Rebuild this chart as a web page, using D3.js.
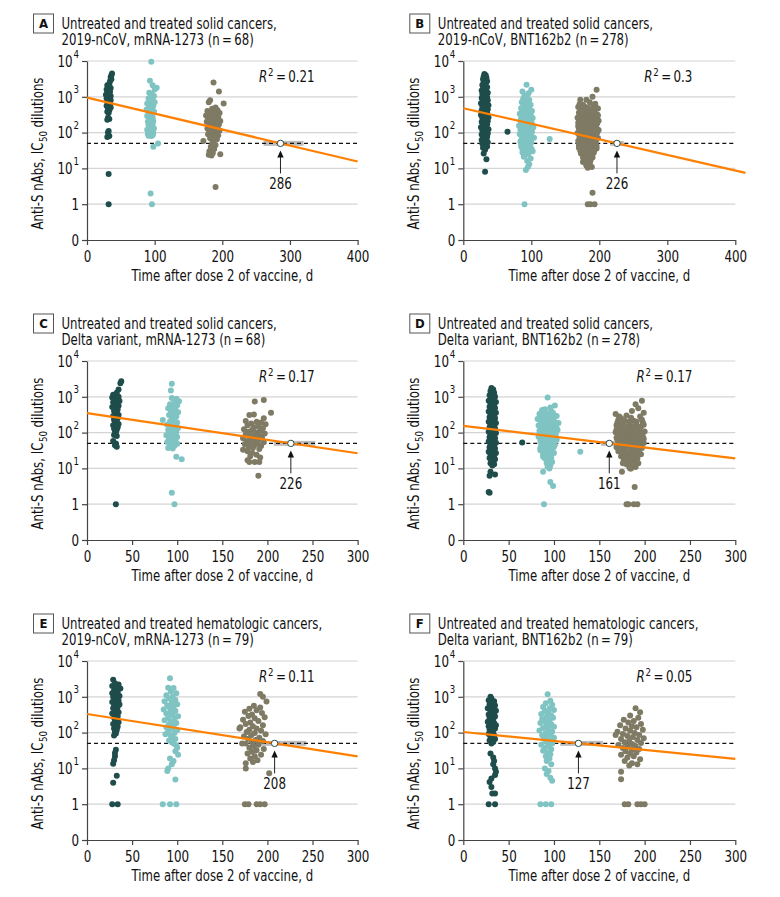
<!DOCTYPE html>
<html><head><meta charset="utf-8">
<script src="https://cdn.jsdelivr.net/npm/d3@7"></script>
<style>
body{margin:0;background:#fff}
text{font-family:"Liberation Sans Narrow","DejaVu Sans Condensed","Liberation Sans",Arial,sans-serif;fill:#111}
</style></head>
<body><svg id="chart" width="780" height="897"></svg>
<script>
// ---------------- DATA ----------------
const letters = ["A","B","C","D","E","F"];
const titles = [
  ["Untreated and treated solid cancers,","2019-nCoV, mRNA-1273 (n\u2009=\u200968)"],
  ["Untreated and treated solid cancers,","2019-nCoV, BNT162b2 (n\u2009=\u2009278)"],
  ["Untreated and treated solid cancers,","Delta variant, mRNA-1273 (n\u2009=\u200968)"],
  ["Untreated and treated solid cancers,","Delta variant, BNT162b2 (n\u2009=\u2009278)"],
  ["Untreated and treated hematologic cancers,","2019-nCoV, mRNA-1273 (n\u2009=\u200979)"],
  ["Untreated and treated hematologic cancers,","Delta variant, BNT162b2 (n\u2009=\u200979)"]
];
const r2Labels = ["0.21","0.3","0.17","0.17","0.11","0.05"];
const xMaxes = [400,400,300,300,300,300];
const xTicksLong = [0,100,200,300,400];
const xTicksShort = [0,50,100,150,200,250,300];
const yTickValues = [0.1,1,10,100,1000,10000];
const yTickLabels = [["0",""],["1",""],["10","1"],["10","2"],["10","3"],["10","4"]];
const gridValues = [1,10,100,1000,10000];
const threshold = 50;
const fitLines = [
  [[0,950],[400,15.6]],
  [[0,480],[415,7.5]],
  [[0,350],[300,26.5]],
  [[0,155],[300,19]],
  [[0,330],[300,21.7]],
  [[0,104],[300,18.4]]
];
const crossDays = [286,226,226,161,208,127];
const crossBands = [[261,320],[216,236],[207,253],[152,168],[188,243],[107,154]];
const xAxisTitle = "Time after dose 2 of vaccine, d";
const yAxisTitleParts = ["Anti-S nAbs, IC", "50", "dilutions"];

// Panel A
const aDark = [[37,4500],[36,4000],[35,3500],[36,3100],[34,2700],[33,2300],[30,2100],[32,1900],[35,1750],[29,1600],[31,1500],[34,1400],[30,1300],[33,1200],[28,1150],[31,1100],[35,1050],[30,1000],[33,950],[29,900],[32,850],[35,800],[30,750],[33,700],[31,650],[34,600],[29,560],[32,520],[35,500],[31,470],[33,420],[30,380],[32,350],[31,260],[33,240],[30,230],[32,110],[31,100],[33,80],[30,75],[32,7],[32,1]];
const aLight = [[95,9500],[93,2800],[97,2100],[103,1800],[100,1600],[92,1300],[96,1200],[99,1050],[94,1000],[91,900],[97,850],[93,780],[100,700],[89,650],[95,620],[98,560],[92,520],[96,480],[88,440],[94,420],[99,390],[91,360],[96,330],[93,310],[89,290],[97,270],[92,250],[95,230],[98,210],[90,200],[94,185],[97,170],[91,160],[95,150],[93,140],[99,130],[89,120],[96,112],[92,105],[98,98],[90,92],[94,88],[97,84],[91,82],[95,80],[105,50],[98,40],[94,2],[96,1]];
const aGray = [[187,2500],[195,1400],[182,800],[180,700],[202,650],[190,500],[185,460],[193,420],[178,400],[188,380],[196,350],[183,330],[191,310],[176,300],[186,290],[194,270],[181,260],[189,250],[179,240],[192,230],[184,220],[197,210],[177,200],[187,190],[182,180],[195,170],[180,160],[190,155],[185,150],[193,140],[178,130],[188,125],[183,120],[196,115],[181,110],[191,100],[186,95],[179,90],[194,85],[184,80],[189,75],[182,70],[192,65],[187,60],[172,58],[185,50],[190,45],[183,40],[188,35],[181,30],[186,27],[180,24],[197,25],[184,23],[190,3]];

// Panel B
const bDark = [[31,4300],[33,4000],[30,3700],[34,3400],[29,3100],[32,2900],[35,2700],[30,2500],[33,2300],[28,2150],[31,2000],[35,1850],[29,1700],[33,1600],[27,1500],[31,1400],[36,1300],[28,1200],[33,1120],[30,1050],[35,980],[27,920],[32,860],[36,800],[29,750],[34,700],[26,660],[31,620],[37,580],[28,540],[33,510],[30,480],[36,450],[27,420],[32,395],[35,370],[29,350],[34,330],[26,310],[31,290],[37,270],[28,255],[33,240],[30,225],[36,210],[27,198],[32,185],[35,172],[29,160],[34,150],[26,140],[31,132],[37,124],[28,116],[33,108],[30,100],[36,94],[27,88],[32,82],[35,77],[29,72],[34,67],[27,62],[31,58],[36,54],[28,50],[33,47],[30,44],[35,41],[29,38],[32,33],[30,26],[34,18],[32,8],[65,105]];
const bLight = [[93,2170],[100,1580],[87,1400],[96,1250],[90,1100],[94,950],[88,880],[97,820],[91,760],[86,700],[95,650],[99,600],[89,560],[93,520],[85,480],[97,450],[91,420],[101,400],[87,380],[95,355],[83,335],[99,315],[90,300],[94,285],[86,270],[102,255],[92,240],[97,228],[84,215],[89,205],[100,195],[94,185],[87,175],[96,165],[82,155],[91,148],[103,140],[88,132],[98,125],[93,118],[85,112],[101,106],[90,100],[95,95],[83,90],[99,85],[88,80],[93,76],[104,72],[86,68],[97,64],[91,60],[84,56],[100,53],[95,50],[88,47],[92,44],[98,41],[86,38],[94,35],[90,32],[102,30],[87,28],[96,26],[92,24],[89,21],[99,19],[94,16],[97,13],[95,11],[92,9],[90,1],[127,66],
  [92,620],[88,500],[96,470],[90,440],[94,400],[86,360],[98,340],[92,320],[88,290],[96,275],[100,262],[85,250],[93,230],[90,218],[97,206],[87,190],[94,178],[101,170],[89,160],[95,150],[86,140],[92,130],[99,120],[84,118],[90,110],[96,102],[88,96],[93,90],[100,80],[87,73],[95,70],[90,65],[98,58],[85,50],[93,55],[96,46],[89,43],[100,36],[91,38],[85,42],[95,30],[88,33],[93,28],[90,26]];
const bGray = [[196,1580],[190,1000],[172,830],[181,830],[186,700],[194,640],[176,600],[191,560],[169,520],[183,500],[198,470],[174,440],[188,420],[179,400],[193,380],[170,360],[185,340],[197,320],[176,305],[190,290],[181,275],[168,260],[194,250],[186,238],[173,226],[199,215],[179,205],[191,195],[169,185],[184,176],[196,168],[175,160],[188,152],[180,145],[193,138],[170,131],[186,125],[199,119],[177,113],[190,108],[182,103],[168,98],[195,94],[174,90],[187,86],[179,82],[192,78],[171,74],[198,71],[184,68],[176,64],[190,61],[169,58],[181,56],[195,53],[173,50],[187,48],[178,45],[192,43],[183,40],[170,38],[196,36],[175,34],[188,32],[180,30],[192,28],[173,26],[185,24],[178,22],[190,20],[182,18],[187,16],[176,15],[184,13],[181,12],[189,11],[183,10.5],[190,2.1],[183,1],[187,1],[193,1],
  [171,620],[178,540],[195,510],[182,450],[172,400],[190,370],[177,330],[198,300],[183,290],[170,270],[188,260],[175,240],[192,225],[180,215],[170,205],[186,195],[197,185],[174,175],[182,165],[192,158],[169,150],[178,140],[196,130],[183,128],[173,118],[192,115],[186,110],[176,104],[197,100],[180,95],[190,92],[171,85],[184,88],[195,80],[177,76],[188,72],[181,66],[194,64],[172,60],[186,55],[178,52],[190,50],[170,46],[183,44],[196,42],[175,40],[188,38],[180,35],[193,33],[172,31],[185,29],[178,27],[190,25],[182,23],[187,21],[176,20],[184,17],[180,14],[186,13]];

// Panel C
const cDark = [[38,2700],[37,2400],[35,1600],[33,1300],[29,1150],[32,1050],[35,1000],[28,950],[31,900],[34,850],[30,800],[36,760],[29,700],[33,650],[31,600],[35,560],[28,520],[32,480],[34,440],[30,400],[33,370],[31,340],[35,310],[29,290],[32,270],[34,250],[30,230],[33,210],[31,190],[35,175],[29,160],[32,150],[34,140],[30,130],[33,120],[31,110],[32,100],[30,86],[33,80],[29,58],[32,50],[31,44],[33,40],[32,1]];
const cLight = [[94,2300],[93,1500],[94,920],[99,880],[102,750],[97,700],[92,620],[100,580],[95,520],[90,480],[98,440],[93,400],[101,370],[96,340],[91,310],[99,280],[94,260],[84,225],[97,230],[92,205],[100,190],[95,175],[89,165],[98,155],[93,145],[101,135],[96,125],[90,118],[94,110],[99,102],[92,96],[97,90],[88,85],[95,80],[100,75],[91,70],[96,66],[93,62],[98,58],[89,55],[94,52],[100,49],[92,46],[97,43],[95,40],[90,37],[95,36],[99,21],[105,18],[94,2.1],[97,1]];
const cGray = [[186,740],[196,820],[180,310],[185,320],[204,360],[196,250],[176,210],[188,200],[193,190],[182,180],[198,170],[178,160],[190,150],[185,140],[195,132],[174,125],[183,118],[192,112],[179,106],[188,100],[197,95],[176,90],[185,86],[191,82],[181,78],[194,74],[173,70],[187,67],[180,64],[190,61],[184,58],[177,56],[196,54],[182,52],[189,50],[175,47],[186,45],[193,42],[179,40],[184,37],[191,35],[173,33],[178,30],[183,27],[188,24],[181,22],[192,20],[178,17],[186,15],[191,15],[180,15],[190,6.2]];

// Panel D
const dDark = [[31,1750],[33,1600],[30,1450],[34,1300],[32,1200],[29,1100],[35,1000],[31,920],[33,850],[28,780],[36,720],[30,670],[34,620],[32,570],[29,530],[35,490],[31,455],[33,420],[28,390],[36,360],[30,335],[34,310],[32,290],[29,270],[35,250],[31,232],[33,215],[28,200],[36,186],[30,173],[34,161],[32,150],[29,140],[35,130],[31,121],[33,113],[28,105],[36,98],[30,91],[34,85],[32,79],[29,74],[35,69],[31,64],[33,60],[28,56],[36,52],[30,48],[34,45],[32,42],[29,39],[35,36],[31,33],[33,31],[28,29],[36,27],[30,25],[34,23],[32,21],[29,19.5],[35,18],[31,16.5],[33,15],[30,14],[34,13],[32,12],[30,8],[29,6.2],[35,6.8],[28,2.2],[29,2.1],[65,53]];
const dLight = [[93,960],[101,570],[87,430],[96,500],[90,380],[99,350],[84,330],[94,310],[103,290],[88,270],[97,255],[82,240],[92,228],[100,215],[86,204],[95,194],[105,184],[89,175],[98,166],[83,158],[93,150],[101,143],[87,136],[96,130],[91,124],[104,118],[84,112],[99,107],[89,102],[94,97],[102,92],[86,88],[97,84],[91,80],[83,76],[100,72],[88,69],[95,66],[103,63],[85,60],[92,57],[98,54],[89,51],[94,49],[101,46],[86,44],[96,42],[91,40],[99,38],[88,36],[94,34],[85,32],[97,30],[91,28],[100,27],[88,25],[95,24],[92,22],[97,20],[90,19],[94,17],[98,15],[92,14],[96,12],[93,11],[95,10],[88,8.1],[96,4.2],[99,3.2],[89,1],[129,29],
  [90,450],[97,400],[86,360],[93,330],[100,300],[89,280],[96,260],[84,250],[91,235],[98,220],[87,210],[94,200],[102,188],[85,178],[92,170],[99,160],[88,150],[95,140],[103,132],[86,125],[93,118],[100,112],[90,105],[97,100],[84,95],[92,90],[99,86],[87,82],[95,78],[102,74],[89,70],[94,62],[98,58],[86,55],[91,52],[96,48],[88,45],[93,41],[100,40],[85,37],[92,35],[97,33],[89,30],[94,27],[91,24],[96,22],[88,21],[93,19],[95,14]];
const dGray = [[197,770],[190,620],[168,330],[174,250],[193,480],[186,400],[199,360],[180,300],[195,280],[171,230],[188,215],[183,200],[198,190],[176,180],[191,170],[169,160],[185,152],[196,145],[179,138],[189,131],[173,125],[194,119],[182,113],[200,108],[168,103],[187,98],[177,94],[192,90],[171,86],[184,82],[198,78],[175,74],[189,71],[180,68],[195,65],[170,62],[186,59],[192,56],[178,54],[199,51],[183,49],[173,47],[190,45],[181,43],[196,41],[169,39],[187,37],[176,35],[193,33],[184,31],[171,30],[189,28],[179,26],[196,25],[185,23],[174,22],[191,20],[182,19],[177,17],[188,16],[193,14],[180,13],[186,12],[190,11],[184,10],[175,8],[185,10],[189,3],[180,1],[182,1],[188,1],[192,1],
  [172,280],[185,260],[197,230],[178,215],[191,200],[170,190],[183,178],[199,165],[175,158],[188,148],[180,140],[194,132],[169,122],[184,115],[176,108],[191,104],[197,96],[172,95],[181,90],[188,85],[194,80],[178,77],[169,72],[185,70],[199,67],[174,64],[190,60],[181,57],[196,53],[171,52],[186,50],[177,48],[193,46],[183,44],[170,42],[189,40],[178,38],[197,37],[173,35],[185,33],[191,31],[180,29],[194,27],[175,26],[187,24],[182,22],[178,20],[192,19],[186,17],[181,15],[176,14],[189,13],[183,11]];

// Panel E
const eDark = [[29,3000],[31,2400],[35,2200],[28,2000],[33,1900],[37,1700],[30,1500],[34,1350],[28,1250],[32,1150],[36,1050],[29,980],[33,900],[31,830],[35,770],[28,720],[32,660],[36,610],[30,560],[34,520],[29,480],[33,440],[31,400],[35,370],[28,340],[32,310],[34,285],[30,260],[33,240],[31,215],[35,195],[29,175],[32,160],[34,145],[30,130],[33,118],[31,105],[32,95],[30,83],[32,33],[31,27],[31,22],[30,17],[29,13.5],[33,6.2],[29,4],[28,1],[34,1]];
const eLight = [[92,3300],[90,1800],[96,1750],[93,1400],[99,1250],[88,1100],[95,1000],[91,900],[98,820],[86,750],[94,680],[100,620],[89,570],[96,520],[92,480],[85,440],[98,400],[93,370],[88,340],[95,310],[101,285],[90,260],[97,240],[86,220],[93,200],[99,185],[91,170],[96,155],[88,142],[94,130],[100,118],[90,108],[97,98],[87,90],[93,82],[95,74],[98,66],[91,60],[94,54],[96,50],[99,44],[100,38],[98,30],[101,24],[92,19],[96,16],[94,13],[90,10],[89,8.4],[98,4.9],[84,1],[92,1],[99,1]];
const eGray = [[192,1200],[195,1000],[199,740],[185,560],[192,500],[180,460],[188,420],[175,380],[194,350],[183,320],[179,290],[197,270],[186,250],[173,230],[190,210],[181,190],[176,175],[195,160],[184,150],[170,140],[188,130],[169,130],[180,120],[193,112],[177,104],[186,97],[198,90],[182,84],[174,78],[191,72],[179,67],[187,62],[195,58],[183,54],[176,50],[172,50],[190,46],[185,42],[180,38],[196,35],[188,32],[183,29],[178,26],[193,24],[186,22],[181,19],[189,17],[184,15],[176,14],[176,10],[202,7.3],[175,1],[179,1],[188,1],[192,1],[197,1]];

// Panel F
const fDark = [[30,1000],[31,900],[28,800],[34,750],[32,680],[29,620],[35,570],[31,520],[27,480],[33,440],[36,410],[30,380],[34,350],[28,320],[32,300],[35,280],[29,260],[33,240],[31,220],[27,200],[34,185],[30,170],[36,160],[28,150],[32,140],[35,130],[29,120],[33,110],[31,100],[28,92],[34,85],[30,78],[32,72],[35,66],[29,60],[33,55],[31,50],[30,26],[33,20],[34,16],[33,13],[35,10],[36,8],[35,6.5],[31,5.2],[29,4.2],[31,3],[32,2],[35,2],[28,1],[35,1]];
const fLight = [[93,1180],[96,780],[91,660],[98,600],[88,520],[95,470],[100,430],[90,400],[94,360],[86,330],[97,300],[92,280],[99,260],[87,240],[95,220],[90,200],[85,185],[97,170],[92,155],[100,145],[88,135],[94,125],[84,115],[98,105],[91,98],[96,90],[87,84],[93,78],[100,72],[89,66],[95,60],[92,55],[98,50],[86,46],[94,42],[90,38],[97,34],[88,31],[93,28],[96,25],[91,22],[95,19],[92,16],[97,13],[90,10],[94,8.5],[92,7],[96,5.5],[98,4.5],[85,1],[91,1],[97,1]];
const fGray = [[190,480],[195,370],[184,300],[193,260],[177,230],[188,210],[182,190],[196,175],[173,160],[186,150],[191,140],[179,130],[198,120],[184,112],[170,105],[189,98],[176,92],[194,86],[168,86],[181,80],[187,75],[199,70],[174,66],[192,62],[183,58],[178,54],[196,51],[186,48],[171,45],[190,42],[181,40],[176,37],[194,35],[186,33],[179,30],[191,28],[184,26],[174,24],[188,22],[181,20],[195,18],[178,16],[186,14],[192,13],[183,12],[174,8],[174,5],[178,1],[182,1],[192,1],[196,1],[200,1]];

const panelSeries = [
  [aDark,aLight,aGray],[bDark,bLight,bGray],
  [cDark,cLight,cGray],[dDark,dLight,dGray],
  [eDark,eLight,eGray],[fDark,fLight,fGray]
];

// ---------------- STYLE / LAYOUT ----------------
const seriesColors = ["#1f4d4b","#7fc4c3","#7e7a64"];
const colLeft = [87, 463.3];
const colWidth = [270.6, 272];
const rowTop = [61, 361, 661];
const plotH = 179;
const K = 0.87;

// Condensed text: glyphs narrowed by a horizontal scale transform.
// Returns the element; width available via .node().__w
function ctext(parent, x, y, str, size, k, anchor, extra) {
  const t = parent.append("text").attr("text-anchor", anchor || "start")
    .style("font-size", size + "px").text(str);
  if (extra) extra(t);
  const w = t.node().getComputedTextLength() * k;
  t.attr("transform", `translate(${x},${y}) scale(${k},1)`);
  t.node().__w = w;
  return t;
}

const svg = d3.select("#chart");

panelSeries.forEach((series, i) => {
  const col = i % 2, row = Math.floor(i / 2);
  const L = colLeft[col], W = colWidth[col], T = rowTop[row], B = T + plotH, R = L + W;
  const x = d3.scaleLinear().domain([0, xMaxes[i]]).range([L, R]);
  const y = d3.scaleLog().domain([0.1, 1e4]).range([B, T]);
  const g = svg.append("g");

  // gridlines
  g.selectAll(".grid").data(gridValues).join("line")
    .attr("x1", L).attr("x2", R).attr("y1", d => y(d)).attr("y2", d => y(d))
    .attr("stroke", "#d4d4d4").attr("stroke-width", 1.2);

  // y axis
  const yAx = g.append("g").attr("transform", `translate(${L},0)`)
    .call(d3.axisLeft(y).tickValues(yTickValues).tickSize(5).tickSizeOuter(0).tickFormat(() => ""));
  yAx.select(".domain").attr("stroke", "#444").attr("stroke-width", 1.2);
  yAx.selectAll(".tick line").attr("stroke", "#444").attr("stroke-width", 1.2);
  yAx.selectAll(".tick text").remove();
  yAx.selectAll(".tick").each(function(d, k) {
    const tk = d3.select(this);
    let supW = 0;
    if (yTickLabels[k][1]) {
      const sup = ctext(tk, -8, -4, yTickLabels[k][1], 10.5, 0.92, "end");
      supW = sup.node().__w + 0.8;
    }
    ctext(tk, -8 - supW, 5.3, yTickLabels[k][0], 15, 0.88, "end");
  });

  // x axis
  const xTicks = xMaxes[i] === 400 ? xTicksLong : xTicksShort;
  const xAx = g.append("g").attr("transform", `translate(0,${B})`)
    .call(d3.axisBottom(x).tickValues(xTicks).tickSize(5).tickSizeOuter(0).tickFormat(() => ""));
  xAx.select(".domain").attr("stroke", "#444").attr("stroke-width", 1.2);
  xAx.selectAll(".tick line").attr("stroke", "#444").attr("stroke-width", 1.2);
  xAx.selectAll(".tick text").remove();
  xAx.selectAll(".tick").each(function(d) {
    ctext(d3.select(this), 0, 22, String(d), 15, 0.88, "middle");
  });

  // crossing band
  const band = crossBands[i];
  g.append("rect").attr("x", x(band[0])).attr("width", x(band[1]) - x(band[0]))
    .attr("y", y(threshold) - 2.5).attr("height", 5).attr("fill", "#bdbdbd");

  // threshold dashed
  g.append("line").attr("x1", L).attr("x2", R).attr("y1", y(threshold)).attr("y2", y(threshold))
    .attr("stroke", "#111").attr("stroke-width", 1.2).attr("stroke-dasharray", "4,3");

  // points
  series.forEach((pts, s) => {
    g.append("g").selectAll("circle").data(pts).join("circle")
      .attr("cx", d => x(d[0])).attr("cy", d => y(d[1])).attr("r", 3)
      .attr("fill", seriesColors[s]);
  });

  // regression line
  g.append("path").datum(fitLines[i])
    .attr("d", d3.line().x(d => x(d[0])).y(d => y(d[1])))
    .attr("stroke", "#ff8000").attr("stroke-width", 2.2).attr("fill", "none");

  // crossing marker + arrow + label
  const cx = x(crossDays[i]), cy = y(threshold);
  g.append("line").attr("x1", cx).attr("x2", cx).attr("y1", cy + 12).attr("y2", cy + 30)
    .attr("stroke", "#222").attr("stroke-width", 1);
  g.append("path").attr("d", `M${cx},${cy + 7}L${cx - 3.2},${cy + 14}L${cx + 3.2},${cy + 14}Z`).attr("fill", "#111");
  g.append("circle").attr("cx", cx).attr("cy", cy).attr("r", 3.2)
    .attr("fill", "#fff").attr("stroke", "#2a4a4a").attr("stroke-width", 1);
  ctext(g, cx, cy + 46, String(crossDays[i]), 15, 0.88, "middle");

  // R^2 (pieces laid out right to left)
  const rEnd = R - 43, rBase = T + 21;
  const rv = ctext(g, rEnd, rBase, "\u2009=\u2009" + r2Labels[i], 15, 0.88, "end");
  const rvW = rv.node().__w;
  const r2 = ctext(g, rEnd - rvW, rBase - 6.5, "2", 10.5, 0.92, "end");
  const r2W = r2.node().__w;
  ctext(g, rEnd - rvW - r2W - 0.8, rBase, "R", 15, 0.88, "end", t => t.style("font-style", "italic"));

  // title box and title
  g.append("rect").attr("x", L - 53.5).attr("y", T - 47).attr("width", 20).attr("height", 19)
    .attr("fill", "#fff").attr("stroke", "#555").attr("stroke-width", 1);
  g.append("text").attr("x", L - 43.5).attr("y", T - 32.8).attr("text-anchor", "middle")
    .style("font-size", "13px").style("font-weight", "bold").text(letters[i]);
  ctext(g, L - 25.5, T - 32, titles[i][0], 15, K, "start");
  ctext(g, L - 25.5, T - 16, titles[i][1], 15, K, "start");

  // x axis title
  ctext(g, (L + R) / 2, B + 41, xAxisTitle, 15, K, "middle");

  // y axis title (rotated group, pieces laid out left to right)
  const yg = g.append("g").attr("transform", `translate(${L - 44},${(T + B) / 2 + 3}) rotate(-90)`);
  const p1 = ctext(yg, 0, 0, yAxisTitleParts[0], 15, K, "start");
  const p2 = ctext(yg, 0, 4, yAxisTitleParts[1], 10.5, 0.92, "start");
  const p3 = ctext(yg, 0, 0, yAxisTitleParts[2], 15, K, "start");
  const w1 = p1.node().__w, w2 = p2.node().__w, w3 = p3.node().__w, gap = 4;
  const x0 = -(w1 + w2 + gap + w3) / 2;
  p1.attr("transform", `translate(${x0},0) scale(${K},1)`);
  p2.attr("transform", `translate(${x0 + w1 + 0.5},4) scale(0.92,1)`);
  p3.attr("transform", `translate(${x0 + w1 + w2 + gap},0) scale(${K},1)`);
});
</script></body></html>
